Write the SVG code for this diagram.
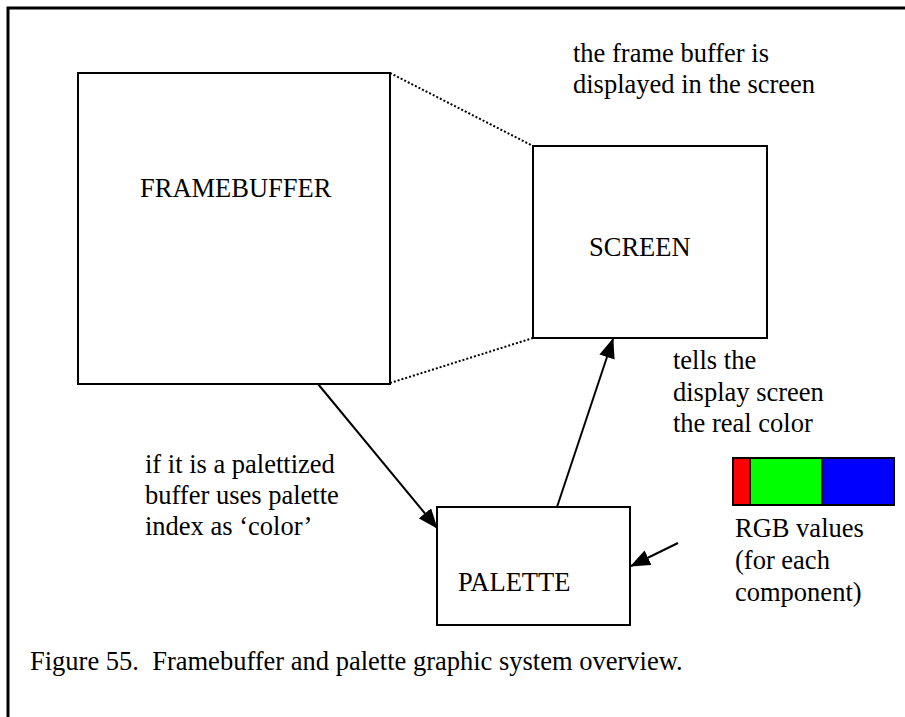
<svg xmlns="http://www.w3.org/2000/svg" width="905" height="717" viewBox="0 0 905 717">
  <style>
    .box { fill: #ffffff; stroke: #000000; stroke-width: 2; }
    .lbl { font-family: "Liberation Serif", "Times New Roman", serif; font-size: 26.5px; fill: #000000; white-space: pre; }
    .dot { stroke: #000000; stroke-width: 2; stroke-dasharray: 2 2; fill: none; }
    .arr { stroke: #000000; stroke-width: 2; fill: none; marker-end: url(#head); }
  </style>
  <defs>
    <marker id="head" viewBox="0 0 20 16" refX="19" refY="8" markerWidth="20" markerHeight="16" markerUnits="userSpaceOnUse" orient="auto">
      <path d="M0,0 L20,8 L0,16 Z" fill="#000000"/>
    </marker>
  </defs>
  <rect width="905" height="717" fill="#ffffff"/>
  <!-- frame around the figure -->
  <path d="M8,730 L8,8 L920,8" fill="none" stroke="#000000" stroke-width="3"/>

  <g id="connectors">
    <line class="dot" x1="390" y1="73" x2="533" y2="146"/>
    <line class="dot" x1="390" y1="383" x2="533" y2="338"/>
    <line class="arr" x1="318" y1="384" x2="437" y2="528"/>
    <line class="arr" x1="557" y1="507" x2="613" y2="339"/>
    <line class="arr" x1="678" y1="543" x2="631" y2="566"/>
  </g>

  <g id="framebuffer">
    <rect class="box" x="78" y="73" width="312" height="311"/>
    <text class="lbl" x="140" y="197">FRAMEBUFFER</text>
  </g>

  <g id="screen">
    <rect class="box" x="533" y="146" width="234" height="192"/>
    <text class="lbl" x="589" y="256">SCREEN</text>
  </g>

  <g id="palette">
    <rect class="box" x="437" y="507" width="193" height="118"/>
    <text class="lbl" x="458" y="591">PALETTE</text>
  </g>

  <g id="rgb">
    <rect x="733" y="458" width="17" height="47" fill="#ff0000" stroke="#000000" stroke-width="2"/>
    <rect x="750" y="458" width="72" height="47" fill="#00ff00" stroke="#000000" stroke-width="2"/>
    <rect x="822" y="458" width="72" height="47" fill="#0000ff" stroke="#000000" stroke-width="2"/>
  </g>

  <g id="notes">
    <text class="lbl" x="573" y="62">the frame buffer is</text>
    <text class="lbl" x="573" y="93">displayed in the screen</text>
    <text class="lbl" x="673" y="369">tells the</text>
    <text class="lbl" x="673" y="401">display screen</text>
    <text class="lbl" x="673" y="432">the real color</text>
    <text class="lbl" x="145" y="473">if it is a palettized</text>
    <text class="lbl" x="145" y="504">buffer uses palette</text>
    <text class="lbl" x="145" y="535">index as ‘color’</text>
    <text class="lbl" x="735" y="537">RGB values</text>
    <text class="lbl" x="735" y="569">(for each</text>
    <text class="lbl" x="735" y="601">component)</text>
  </g>

  <text id="caption" class="lbl" x="30" y="670" xml:space="preserve">Figure 55.  Framebuffer and palette graphic system overview.</text>
</svg>
